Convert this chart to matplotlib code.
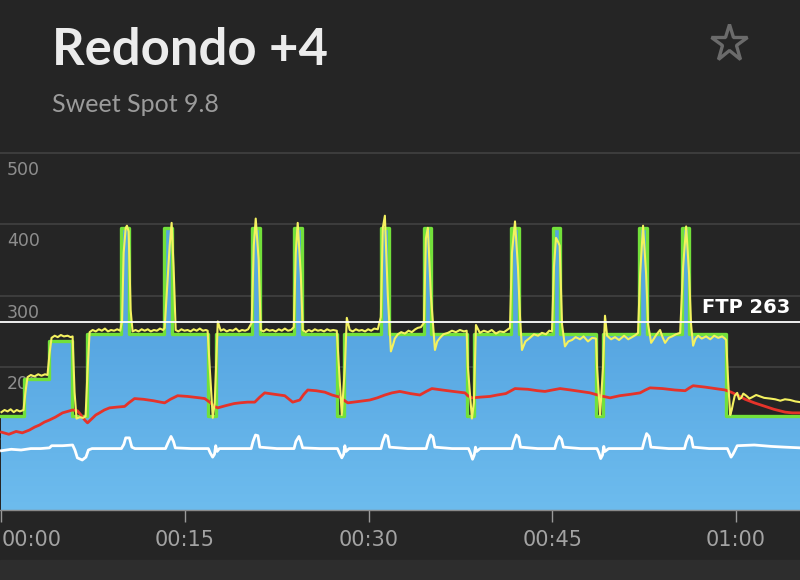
import matplotlib
matplotlib.use("Agg")
import matplotlib.pyplot as plt
import numpy as np
from matplotlib.colors import LinearSegmentedColormap
from matplotlib.lines import Line2D
from matplotlib.patches import Rectangle
import matplotlib.transforms as mtransforms

# workout target (watts), step changes, minutes
target_t = [0, 1.8, 3.85, 5.8, 6.95, 9.8, 10.45, 13.3, 13.95, 16.85, 17.5, 20.45, 21.1,
            23.9, 24.55, 27.4, 27.95, 31.0, 31.65, 34.5, 35.1, 38.0, 38.6, 41.6, 42.25,
            45.05, 45.6, 48.55, 49.15, 52.1, 52.75, 55.6, 56.15, 59.2, 65.3]
target_w = [132, 184, 237, 132, 247, 395, 247, 395, 247, 132, 247, 395, 247,
            395, 247, 132, 247, 395, 247, 395, 247, 132, 247, 395, 247,
            395, 247, 132, 247, 395, 247, 395, 247, 132, 132]

# actual power (yellow)
power = [
    (0.00, 137), (0.25, 140), (0.50, 138), (0.75, 141), (1.00, 137), (1.25, 140), (1.50, 138), (1.80, 140),
    (1.96, 165), (2.13, 186), (2.40, 189), (2.70, 187), (3.00, 190), (3.27, 188), (3.55, 190), (3.76, 189),
    (3.92, 218), (4.09, 241), (4.35, 244), (4.60, 242), (4.85, 245), (5.10, 243), (5.40, 244), (5.65, 242), (5.81, 243),
    (5.97, 165), (6.13, 128), (6.40, 130), (6.65, 129), (6.87, 131),
    (7.03, 195), (7.20, 249), (7.45, 252), (7.70, 250), (7.95, 253), (8.20, 251), (8.45, 254), (8.70, 250),
    (8.95, 252), (9.20, 251), (9.45, 253), (9.70, 251),
    (9.85, 265), (9.98, 360), (10.15, 395), (10.25, 398), (10.39, 390), (10.55, 280), (10.71, 250),
    (10.95, 252), (11.20, 250), (11.45, 253), (11.70, 251), (11.95, 253), (12.20, 250), (12.45, 252),
    (12.70, 251), (12.95, 254), (13.20, 252), (13.33, 255),
    (13.49, 300), (13.74, 370), (13.90, 402), (14.06, 340), (14.23, 252),
    (14.45, 250), (14.70, 253), (14.95, 251), (15.20, 252), (15.45, 250), (15.70, 253), (15.95, 251),
    (16.20, 254), (16.45, 251), (16.70, 252), (16.84, 251),
    (17.01, 200), (17.26, 129), (17.42, 150), (17.67, 264), (17.91, 251),
    (18.15, 253), (18.40, 250), (18.65, 252), (18.90, 251), (19.15, 254), (19.40, 250), (19.65, 252),
    (19.90, 251), (20.15, 253), (20.44, 262),
    (20.61, 370), (20.77, 408), (21.01, 350), (21.18, 252),
    (21.40, 250), (21.65, 253), (21.90, 251), (22.15, 252), (22.40, 250), (22.65, 253), (22.90, 251),
    (23.15, 254), (23.40, 251), (23.65, 252), (23.88, 256),
    (24.04, 360), (24.20, 402), (24.45, 330), (24.61, 252),
    (24.85, 249), (25.10, 252), (25.35, 250), (25.60, 253), (25.85, 251), (26.10, 252), (26.35, 250),
    (26.60, 253), (26.85, 251), (27.10, 252), (27.39, 251),
    (27.64, 180), (27.80, 133), (28.05, 200), (28.21, 269), (28.45, 252),
    (28.70, 250), (28.95, 253), (29.20, 251), (29.45, 252), (29.70, 250), (29.95, 253), (30.20, 251),
    (30.45, 254), (30.74, 253), (30.99, 270),
    (31.15, 395), (31.32, 412), (31.56, 300), (31.81, 222), (32.00, 232), (32.13, 240), (32.38, 246),
    (32.65, 249), (32.95, 247), (33.25, 251), (33.52, 249), (33.80, 253), (34.01, 255), (34.26, 256), (34.51, 262),
    (34.67, 380), (34.83, 395), (35.08, 300), (35.41, 224), (35.60, 236), (35.82, 241),
    (36.10, 246), (36.47, 248), (36.80, 251), (37.12, 249), (37.45, 252), (37.78, 250), (38.00, 251),
    (38.10, 200), (38.43, 128), (38.59, 150), (38.76, 259), (39.08, 248),
    (39.40, 251), (39.74, 249), (40.05, 252), (40.39, 247), (40.70, 250), (41.05, 249), (41.30, 252), (41.54, 255),
    (41.70, 360), (41.95, 404), (42.19, 340), (42.36, 270), (42.52, 224), (42.80, 236), (43.17, 241),
    (43.50, 246), (43.83, 244), (44.15, 248), (44.48, 246), (44.75, 251), (44.97, 250),
    (45.13, 340), (45.30, 381), (45.45, 376), (45.60, 370), (45.79, 260), (46.03, 229),
    (46.30, 236), (46.61, 238), (46.90, 242), (47.26, 239), (47.55, 243), (47.91, 236), (48.25, 241), (48.57, 240),
    (48.65, 200), (48.90, 133), (49.14, 200), (49.30, 272), (49.47, 244),
    (49.80, 239), (50.12, 242), (50.45, 238), (50.86, 244), (51.20, 239), (51.51, 242), (51.80, 245), (52.00, 248),
    (52.17, 330), (52.41, 398), (52.66, 330), (52.82, 260), (53.07, 234), (53.30, 240), (53.48, 245),
    (53.80, 252), (54.00, 242), (54.21, 234), (54.50, 241), (54.78, 243), (55.10, 246), (55.44, 248),
    (55.68, 340), (55.93, 397), (56.17, 330), (56.33, 260), (56.50, 230), (56.70, 240), (56.91, 244),
    (57.20, 240), (57.56, 243), (57.90, 239), (58.22, 244), (58.55, 241), (58.87, 243), (59.10, 240), (59.20, 238),
    (59.36, 180), (59.53, 133), (59.65, 140), (59.77, 150), (59.90, 160), (60.10, 164), (60.25, 155),
    (60.43, 157), (60.60, 163), (60.84, 160), (61.10, 156), (61.33, 158), (61.65, 161), (61.98, 159),
    (62.30, 157), (62.80, 156), (63.20, 155), (63.62, 153), (64.00, 155), (64.43, 154), (64.85, 152), (65.25, 151),
]

# heart rate (red), drawn on the same scale
hr = [
    (0.00, 109), (0.60, 106), (1.20, 110), (1.70, 108), (2.29, 112), (2.70, 116), (3.11, 119), (3.50, 123),
    (3.92, 126), (4.40, 130), (4.99, 136), (5.40, 138), (5.81, 140), (6.20, 139), (6.50, 133), (6.80, 126),
    (7.03, 122), (7.40, 128), (7.70, 133), (8.01, 136), (8.40, 140), (8.83, 143), (9.40, 144), (10.06, 145),
    (10.40, 150), (10.87, 156), (11.60, 155), (12.40, 153), (13.00, 151), (13.33, 150), (13.80, 155),
    (14.39, 160), (15.20, 159), (16.19, 157), (16.60, 156), (17.01, 151), (17.40, 145), (17.67, 143),
    (18.30, 146), (19.00, 149), (19.46, 150), (20.10, 151), (20.69, 151), (21.10, 158), (21.50, 164),
    (22.30, 162), (23.14, 160), (23.50, 155), (23.79, 151), (24.37, 154), (24.70, 162), (25.02, 168),
    (25.70, 167), (26.41, 165), (27.00, 161), (27.64, 158), (27.95, 154), (28.29, 150), (29.20, 152),
    (30.09, 154), (30.70, 157), (31.32, 161), (31.90, 164), (32.54, 166), (33.40, 163), (34.18, 161),
    (34.70, 166), (35.16, 170), (36.00, 168), (36.90, 166), (37.86, 164), (38.10, 160), (38.43, 157),
    (39.10, 158), (39.90, 159), (40.50, 161), (41.20, 163), (41.95, 170), (43.00, 169), (43.80, 167),
    (44.40, 166), (45.00, 168), (45.63, 170), (46.50, 168), (47.30, 166), (48.08, 164), (48.90, 160),
    (49.71, 157), (50.50, 160), (51.40, 162), (52.17, 164), (52.60, 168), (52.98, 171), (54.00, 170),
    (55.00, 168), (55.85, 167), (56.20, 171), (56.50, 174), (57.50, 172), (58.30, 170), (59.12, 168),
    (59.60, 165), (60.10, 161), (60.75, 155), (61.50, 150), (62.39, 145), (63.10, 141), (64.02, 137),
    (64.60, 136), (65.25, 136),
]

# cadence (white), drawn on the same scale
cad = [
    (0.00, 83), (0.80, 85), (1.60, 84), (2.40, 86), (3.20, 86), (3.92, 87), (4.10, 90), (5.00, 90), (5.81, 91),
    (6.00, 84), (6.20, 73), (6.60, 70), (6.90, 74), (7.10, 84), (7.40, 86), (8.50, 86), (9.80, 86),
    (10.00, 92), (10.15, 101), (10.45, 101), (10.65, 88), (10.90, 86), (12.20, 86), (13.40, 86),
    (13.60, 94), (13.85, 103), (14.05, 96), (14.20, 87), (15.50, 86), (16.90, 86),
    (17.05, 80), (17.25, 74), (17.40, 78), (17.50, 90), (17.62, 82), (17.80, 86), (19.00, 86), (20.40, 86),
    (20.55, 96), (20.75, 105), (20.95, 104), (21.10, 88), (22.50, 86), (23.90, 86),
    (24.05, 96), (24.30, 103), (24.45, 96), (24.60, 87), (26.00, 86), (27.45, 86),
    (27.60, 80), (27.80, 73), (27.95, 78), (28.05, 90), (28.15, 82), (28.40, 86), (29.80, 86), (31.00, 86),
    (31.15, 96), (31.35, 105), (31.55, 103), (31.70, 88), (33.20, 86), (34.70, 86),
    (34.85, 96), (35.05, 105), (35.25, 102), (35.40, 88), (36.80, 86), (38.15, 86),
    (38.30, 80), (38.48, 71), (38.62, 77), (38.72, 88), (38.82, 82), (39.10, 86), (40.50, 86), (41.70, 86),
    (41.85, 96), (42.05, 105), (42.25, 102), (42.40, 88), (43.80, 86), (45.20, 86),
    (45.35, 96), (45.55, 103), (45.75, 99), (45.90, 88), (47.30, 86), (48.65, 86),
    (48.80, 80), (48.95, 72), (49.10, 77), (49.20, 89), (49.30, 82), (49.60, 86), (51.00, 86), (52.35, 86),
    (52.50, 96), (52.70, 107), (52.90, 103), (53.05, 88), (54.50, 86), (55.80, 86),
    (55.95, 96), (56.15, 104), (56.35, 101), (56.50, 88), (57.80, 86), (59.30, 86),
    (59.45, 80), (59.60, 74), (59.75, 78), (59.90, 83), (60.10, 90), (61.50, 91), (62.90, 89),
    (64.00, 88), (65.25, 87),
]

ftp = 263
grid_w = [100, 200, 300, 400, 500]
xtick_min = [0, 15, 30, 45, 60]
xtick_lab = ["00:00", "00:15", "00:30", "00:45", "01:00"]
title = "Redondo +4"
subtitle = "Sweet Spot 9.8"

BG = "#252525"
fig = plt.figure(figsize=(8, 5.8), dpi=100, facecolor=BG)
fig.patches.append(Rectangle((0, 0), 1, 20 / 580, transform=fig.transFigure,
                             color="#2d2d2d", zorder=0))

ax = fig.add_axes([0, 70 / 580, 1, 370 / 580])
ax.set_facecolor(BG)
xmin, xmax = -0.12, 65.23
ymax = 518

for v in grid_w:
    ax.axhline(v, color="#3c3c3c", lw=1.5, zorder=0.5)

# y labels sit under the fill (the 200 label is cut by the blue area)
trans = mtransforms.blended_transform_factory(ax.transAxes, ax.transData)
for v in grid_w:
    ax.text(7 / 800, v - 24, str(v), transform=trans, va="center", ha="left",
            color="#8e8e8e", fontsize=12.5, zorder=0.6)

# blue gradient area under the target
poly = ax.fill_between(target_t, target_w, 0, step="post", facecolor="#5fb0e7",
                       edgecolor="none", zorder=1)
cmap = LinearSegmentedColormap.from_list("blu", ["#6dbcee", "#56a5e1"])
grad = np.linspace(0, 1, 256).reshape(-1, 1)
im = ax.imshow(grad, extent=[xmin, xmax, 0, 260], origin="lower", aspect="auto",
               cmap=cmap, zorder=1.1)
im.set_clip_path(poly.get_paths()[0], transform=ax.transData)
im2 = ax.imshow(np.ones((2, 2)), extent=[xmin, xmax, 260, 420], origin="lower",
                aspect="auto", cmap=LinearSegmentedColormap.from_list("b2", ["#56a5e1", "#56a5e1"]),
                zorder=1.1)
im2.set_clip_path(poly.get_paths()[0], transform=ax.transData)

ax.step(target_t, target_w, where="post", color="#72e03a", lw=2.4, zorder=2)

pt, pw = zip(*power)
ht, hw = zip(*hr)
ct, cw = zip(*cad)
ax.plot(ht, hw, color="#e5332a", lw=2.0, zorder=3)
ax.plot(ct, cw, color="white", lw=2.0, zorder=3)
ax.plot(pt, pw, color="#f4f160", lw=1.5, zorder=3.5)

ax.axhline(ftp, color="white", lw=1.3, zorder=4)
ax.text(790 / 800, 276, "FTP %d" % ftp, transform=trans, ha="right", va="baseline",
        color="white", fontsize=14, fontweight="bold", zorder=5)

ax.set_xlim(xmin, xmax)
ax.set_ylim(0, ymax)
ax.set_yticks([])
for s in ["top", "left", "right"]:
    ax.spines[s].set_visible(False)
ax.spines["bottom"].set_color("#8a8a8a")
ax.spines["bottom"].set_linewidth(1)
ax.spines["bottom"].set_zorder(6)
ax.set_xticks(xtick_min)
ax.set_xticklabels(xtick_lab)
ax.tick_params(axis="x", direction="out", length=8.6, width=1, color="#9a9a9a",
               labelcolor="#a3a3a3", labelsize=15, pad=6)
ax.get_xticklabels()[0].set_ha("left")

fig.text(52 / 800, 1 - 65 / 580, title, fontsize=36.5, fontweight="bold",
         family=["Lato", "DejaVu Sans"], color="#ececec", va="baseline")
fig.text(52 / 800, 1 - 112 / 580, subtitle, fontsize=18,
         family=["Lato", "DejaVu Sans"], color="#9b9b9b", va="baseline")
fig.add_artist(Line2D([729 / 800], [1 - 43 / 580], marker="*", ms=28, mfc="none",
                      mec="#6b6b6b", mew=2.4, transform=fig.transFigure))

fig.savefig("out.png", dpi=100, facecolor=fig.get_facecolor())
